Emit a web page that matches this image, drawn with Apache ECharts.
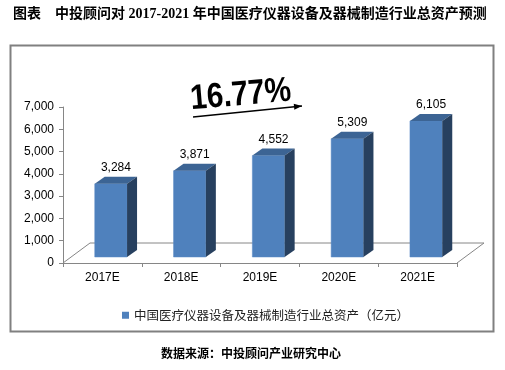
<!DOCTYPE html>
<html>
<head>
<meta charset="utf-8">
<script src="https://cdn.jsdelivr.net/npm/echarts@6/dist/echarts.min.js"></script>
<style>
html,body{margin:0;padding:0;background:#fff;}
#c{width:505px;height:370px;}
</style>
</head>
<body>
<div id="c"></div>
<script>
// ---- data ----
const categories = ['2017E', '2018E', '2019E', '2020E', '2021E'];
const values = [3284, 3871, 4552, 5309, 6105];
const seriesName = '中国医疗仪器设备及器械制造行业总资产（亿元）';
const yMin = 0, yMax = 7000, yStep = 1000;
const titleText = '图表    中投顾问对 2017-2021 年中国医疗仪器设备及器械制造行业总资产预测';
const growthText = '16.77%';
const sourceText = '数据来源：中投顾问产业研究中心';

// ---- layout ----
const W = 505, H = 370;
const gLeft = 63, gRight = 457, gTop = 107, gBottom = 263;
const floorDx = 27, floorDy = -20;
const barOx = 8.5, barOy = -6, barDx = 10, barDy = -7;

const chart = echarts.init(document.getElementById('c'), null, {renderer: 'canvas'});

function fmt(v) { return v.toLocaleString('en-US'); }

const arrowStart = [193, 117], arrowEnd = [302, 106];
const ang = Math.atan2(arrowEnd[1] - arrowStart[1], arrowEnd[0] - arrowStart[0]);
const hl = 8, hw = 3;
const headPts = [
  arrowEnd,
  [arrowEnd[0] - hl * Math.cos(ang) + hw * Math.sin(ang), arrowEnd[1] - hl * Math.sin(ang) - hw * Math.cos(ang)],
  [arrowEnd[0] - hl * Math.cos(ang) - hw * Math.sin(ang), arrowEnd[1] - hl * Math.sin(ang) + hw * Math.cos(ang)]
];

const option = {
  animation: false,
  backgroundColor: '#fff',
  grid: {left: gLeft, right: W - gRight, top: gTop, bottom: H - gBottom, containLabel: false},
  xAxis: {
    type: 'category',
    data: categories,
    boundaryGap: true,
    axisLine: {show: true, lineStyle: {color: '#868686', width: 1}},
    axisTick: {show: true, alignWithLabel: false, length: 4, lineStyle: {color: '#868686'}},
    axisLabel: {color: '#000', fontSize: 12, fontFamily: '"Liberation Sans", Arial', margin: 9},
    splitLine: {show: false}
  },
  yAxis: {
    type: 'value',
    min: yMin, max: yMax, interval: yStep,
    axisLine: {show: true, lineStyle: {color: '#868686', width: 1}},
    axisTick: {show: true, length: 4, lineStyle: {color: '#868686'}},
    axisLabel: {color: '#000', fontSize: 12, fontFamily: '"Liberation Sans", Arial', margin: 9, formatter: v => fmt(v)},
    splitLine: {show: false}
  },
  legend: {
    show: true,
    left: 117, top: 304,
    itemWidth: 7, itemHeight: 7,
    icon: 'rect',
    textStyle: {color: '#222', fontSize: 12.5, fontFamily: '"Noto Sans CJK SC"'},
    data: [seriesName]
  },
  graphic: [
    {type: 'rect', z: -10, shape: {x: 10.5, y: 45.5, width: 483, height: 286}, style: {fill: 'none', stroke: '#808080', lineWidth: 2}},
    {type: 'polyline', z: -5, shape: {points: [[gLeft, gBottom], [gLeft + floorDx, gBottom + floorDy], [gRight + floorDx, gBottom + floorDy], [gRight, gBottom]]}, style: {fill: 'none', stroke: '#868686', lineWidth: 1}},
    {type: 'text', x: 13, y: 14, style: {text: titleText, font: 'bold 14px "Liberation Serif", "Noto Sans CJK SC"', fill: '#000', verticalAlign: 'middle', align: 'left'}},
    {type: 'text', x: 192, y: 117, rotation: 0.085, scaleX: 0.85, scaleY: 1, originX: 0, originY: 0,
      style: {text: growthText, x: 0, y: 0, font: 'bold 35px "Liberation Sans", Arial', fill: '#000', verticalAlign: 'bottom', align: 'left'}},
    {type: 'line', shape: {x1: arrowStart[0], y1: arrowStart[1], x2: arrowEnd[0], y2: arrowEnd[1]}, style: {stroke: '#000', lineWidth: 1.5}},
    {type: 'polygon', shape: {points: headPts}, style: {fill: '#000'}},
    {type: 'text', x: 251, y: 353, style: {text: sourceText, font: 'bold 12px "Noto Sans CJK SC"', fill: '#000', verticalAlign: 'middle', align: 'center'}}
  ],
  series: [{
    name: seriesName,
    type: 'custom',
    itemStyle: {color: '#4F81BD'},
    encode: {x: 0, y: 1},
    data: values.map((v, i) => [i, v]),
    renderItem: function (params, api) {
      const idx = api.value(0), v = api.value(1);
      const base = api.coord([idx, 0]);
      const top = api.coord([idx, v]);
      const w = api.size([1, 0])[0] * 0.41;
      const L = base[0] + barOx - w / 2, R = L + w;
      const B = base[1] + barOy, T = top[1] + barOy;
      return {
        type: 'group',
        children: [
          {type: 'rect', shape: {x: L, y: T, width: w, height: B - T}, style: {fill: '#4F81BD', stroke: '#5a8bc4', lineWidth: 0.5}},
          {type: 'polygon', shape: {points: [[L, T], [L + barDx, T + barDy], [R + barDx, T + barDy], [R, T]]}, style: {fill: '#3C6494'}},
          {type: 'polygon', shape: {points: [[R, T], [R + barDx, T + barDy], [R + barDx, B + barDy], [R, B]]}, style: {fill: '#27405F'}},
          {type: 'text', style: {text: fmt(v), x: (L + R) / 2 + 5, y: T + barDy - 9, font: '12px "Liberation Sans", Arial', fill: '#000', align: 'center', verticalAlign: 'middle'}}
        ]
      };
    }
  }]
};
chart.setOption(option);
</script>
</body>
</html>
